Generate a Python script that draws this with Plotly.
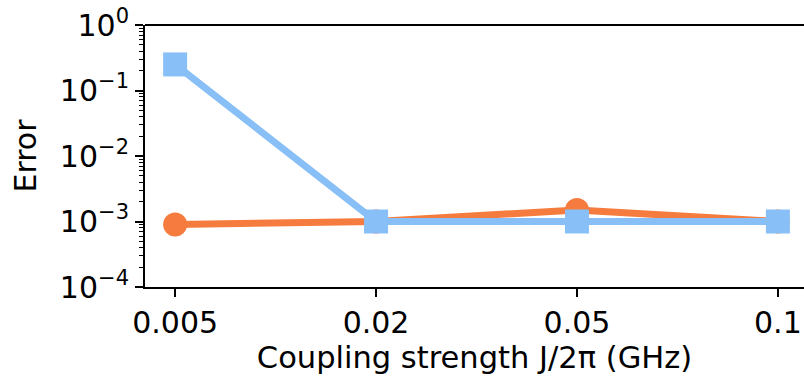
import plotly.graph_objects as go

categories = ["0.005", "0.02", "0.05", "0.1"]
orange_vals = [9.0e-4, 1.0e-3, 1.5e-3, 1.0e-3]
blue_vals = [0.25, 1.0e-3, 1.0e-3, 1.0e-3]
ytick_vals = [1e-4, 1e-3, 1e-2, 1e-1, 1e0]
ytick_text = ["10<sup>−4</sup>", "10<sup>−3</sup>", "10<sup>−2</sup>", "10<sup>−1</sup>", "10<sup>0</sup>"]

ORANGE = "#F57C3E"
BLUE = "#87BFF6"
FONT = "DejaVu Sans"

minor_vals = [m * d for d in ytick_vals[:-1] for m in range(2, 10)]

fig = go.Figure()
xs = list(range(len(categories)))
fig.add_trace(go.Scatter(x=xs, y=orange_vals, mode="lines+markers",
                         line=dict(color=ORANGE, width=7),
                         marker=dict(symbol="circle", size=24, color=ORANGE),
                         showlegend=False))
fig.add_trace(go.Scatter(x=xs, y=blue_vals, mode="lines+markers",
                         line=dict(color=BLUE, width=7),
                         marker=dict(symbol="square", size=24, color=BLUE),
                         showlegend=False))

fig.update_layout(
    width=804, height=379,
    margin=dict(l=145, r=0, t=25, b=92),
    paper_bgcolor="white", plot_bgcolor="white",
    font=dict(family=FONT, color="black", size=30),
    xaxis=dict(range=[-0.15, 3.13], tickvals=xs, ticktext=categories,
               showgrid=False, zeroline=False, showline=True, linecolor="black", linewidth=2,
               ticks="outside", ticklen=8, tickwidth=1.5, tickcolor="black",
               tickfont=dict(size=30),
               title=dict(text="Coupling strength J/2π (GHz)", font=dict(size=30.5), standoff=5)),
    yaxis=dict(type="log", range=[-4, 0], tickvals=ytick_vals, ticktext=ytick_text,
               showgrid=False, zeroline=False, showline=True, linecolor="black", linewidth=2,
               ticks="outside", ticklen=8, tickwidth=1.5, tickcolor="black",
               minor=dict(tickmode="array", tickvals=minor_vals, ticks="outside", ticklen=4,
                          tickwidth=1, tickcolor="black", showgrid=False),
               tickfont=dict(size=30),
               title=dict(text="Error", font=dict(size=30), standoff=14)),
)
fig.add_shape(type="line", xref="paper", yref="paper", x0=0, x1=1, y0=1, y1=1,
              line=dict(color="black", width=2))

fig.write_html("out.html")
